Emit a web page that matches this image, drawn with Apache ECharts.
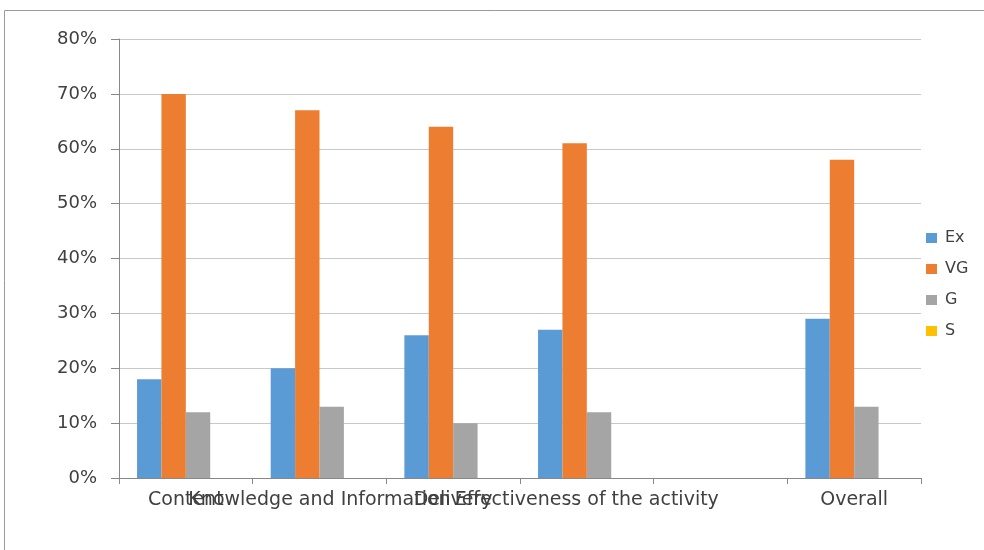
<!DOCTYPE html>
<html><head><meta charset="utf-8">
<script src="https://cdn.jsdelivr.net/npm/echarts@6/dist/echarts.min.js"></script>
<style>html,body{margin:0;padding:0;background:#fff}#c{width:984px;height:550px}</style>
</head><body><div id="c"></div>
<script>
const categories = ["Content", "Knowledge and Information", "Delivery", "Effectiveness of the activity", "", "Overall"];
const seriesNames = ["Ex", "VG", "G", "S"];
const exValues = [18, 20, 26, 27, null, 29];
const vgValues = [70, 67, 64, 61, null, 58];
const gValues  = [12, 13, 10, 12, null, 13];
const sValues  = [0, 0, 0, 0, null, 0];
const yTicks = [0, 10, 20, 30, 40, 50, 60, 70, 80];
const colors = ["#5B9BD5", "#ED7D31", "#A5A5A5", "#FFC000"];

const chart = echarts.init(document.getElementById('c'));
const font = "'DejaVu Sans', sans-serif";
const dataSets = [exValues, vgValues, gValues, sValues];
chart.setOption({
  animation: false,
  textStyle: { fontFamily: font },
  graphic: [{
    type: 'rect', shape: { x: 4.5, y: 10.5, width: 1000, height: 600 },
    style: { fill: 'none', stroke: '#9a9a9a', lineWidth: 1 }, silent: true
  }],
  grid: { left: 119, right: 63, top: 39, bottom: 72 },
  legend: {
    orient: 'vertical', left: 921, top: 225, itemGap: 15,
    itemWidth: 11, itemHeight: 10, icon: 'rect',
    textStyle: { fontFamily: font, fontSize: 16, color: '#404040', padding: [0, 0, 0, 3] },
    data: seriesNames
  },
  xAxis: {
    type: 'category', data: categories,
    axisLine: { lineStyle: { color: '#888', width: 1 } },
    axisTick: { show: true, length: 6, alignWithLabel: false, interval: 0, lineStyle: { color: '#888' } },
    axisLabel: { interval: 0, fontSize: 19, color: '#404040', margin: 13, fontFamily: font, hideOverlap: false }
  },
  yAxis: {
    type: 'value', min: 0, max: 80, interval: 10,
    axisLine: { show: true, lineStyle: { color: '#888' } },
    axisTick: { show: true, length: 8, lineStyle: { color: '#888' } },
    splitLine: { lineStyle: { color: '#c8c8c8' } },
    axisLabel: { formatter: v => yTicks.includes(v) ? v + '%' : '', fontSize: 18, color: '#404040', margin: 22, fontFamily: font }
  },
  series: seriesNames.map((n, i) => ({
    name: n, type: 'bar', data: dataSets[i],
    itemStyle: { color: colors[i] },
    barGap: '0%', barCategoryGap: '27%'
  }))
});
</script></body></html>
